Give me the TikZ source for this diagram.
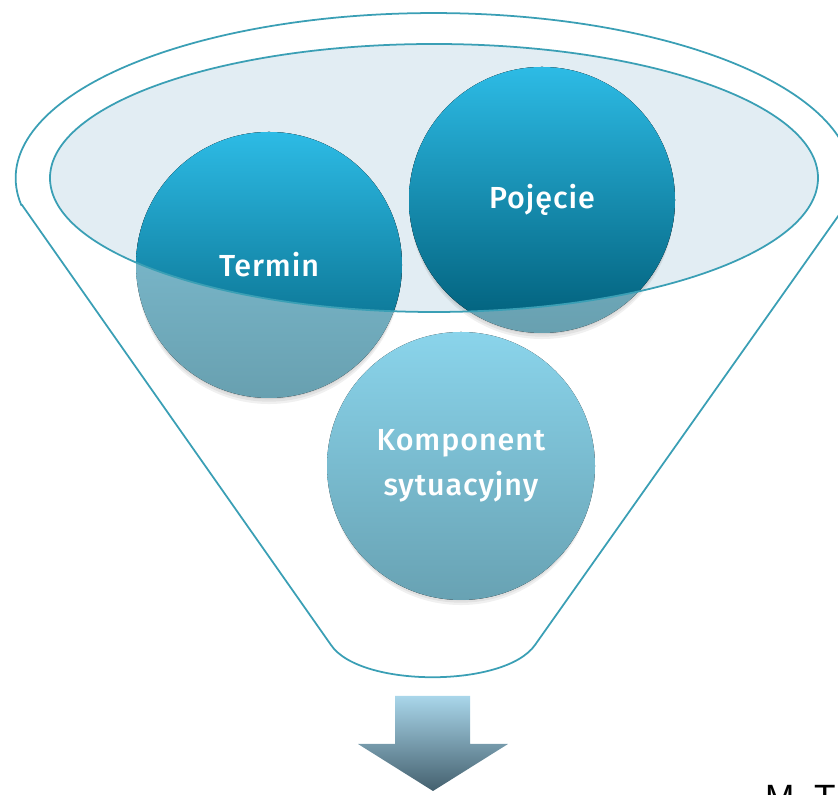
\documentclass[tikz,border=0pt]{standalone}
\usepackage{fontspec}
\setmainfont{Open Sans}
\newfontfamily\ballfont{Fira Sans}[UprightFont=* Medium, LetterSpace=3]
\newfontfamily\signfont{Liberation Sans}
\usetikzlibrary{positioning}
\definecolor{rimblue}{HTML}{3A9FB5}
\definecolor{bowlfill}{HTML}{E2EDF3}
\definecolor{deeptop}{HTML}{2DBBE5}
\definecolor{deepbot}{HTML}{005D78}
\definecolor{mutedtop}{HTML}{86C7DC}
\definecolor{mutedbot}{HTML}{68A0B0}
\definecolor{lighttop}{HTML}{8AD4EB}
\definecolor{lightbot}{HTML}{68A2B3}
\definecolor{arrowtop}{HTML}{A9D6EA}
\definecolor{arrowbot}{HTML}{44606E}
\tikzset{rim/.style = {draw=rimblue, line width=1.5pt}}
\tikzset{deep/.style = {top color=deeptop, bottom color=deepbot}}
\tikzset{muted/.style = {top color=mutedtop, bottom color=mutedbot}}
\tikzset{light/.style = {top color=lighttop, bottom color=lightbot}}
\tikzset{soft shadow/.style = {fill=black, opacity=0.06}}
\tikzset{ball text/.style = {text=white, align=center,
                             font=\ballfont\fontsize{26}{38}\selectfont}}

\begin{document}
\begin{tikzpicture}[x=0.03cm, y=0.03cm]
      \useasboundingbox (0,0) rectangle (838,795);

      % funnel body
      \path [rim, fill=white] (22,590) -- (331,150)
        .. controls (360,107) and (505,107) .. (535,150) -- (846,590)
        arc [start angle=-9.4, end angle=189.4, x radius=418, y radius=165] -- cycle;
      \fill [bowlfill] (434,617) ellipse [x radius=384, y radius=134];

      \coordinate (termin c) at (269,530);
      \coordinate (pojecie c) at (542,595);
      \coordinate (komponent c) at (461,329);

      % shadows
      \foreach \c in {termin c, pojecie c, komponent c} {
        \foreach \s in {2,4,6}
          \fill [soft shadow] ([yshift=-\s pt]\c) circle [radius=132];
      }

      \fill [light] (komponent c) circle [radius=134];
      \fill [muted] (termin c) circle [radius=133];
      \fill [muted] (pojecie c) circle [radius=133];

      \begin{scope}
        \clip (434,617) ellipse [x radius=384, y radius=134];
        \fill [deep] (termin c) circle [radius=133];
        \fill [deep] (pojecie c) circle [radius=133];
      \end{scope}
      \draw [rim] (434,617) ellipse [x radius=384, y radius=134];

      \node [ball text] (termin) at (termin c) {Termin};
      \node [ball text] (pojecie) at (pojecie c) {Pojęcie};
      \node [ball text] (komponent) at (komponent c) {Komponent\\sytuacyjny};

      % arrow out of the funnel
      \path [top color=arrowtop, bottom color=arrowbot]
        (395,99) -- (470,99) -- (470,51) -- (508,51) -- (433,4)
        -- (358,51) -- (395,51) -- cycle;

      \node [anchor=base west, inner sep=0pt,
             font=\signfont\fontsize{30}{36}\selectfont] (author) at (765,-15) {M. T};
    \end{tikzpicture}
\end{document}
